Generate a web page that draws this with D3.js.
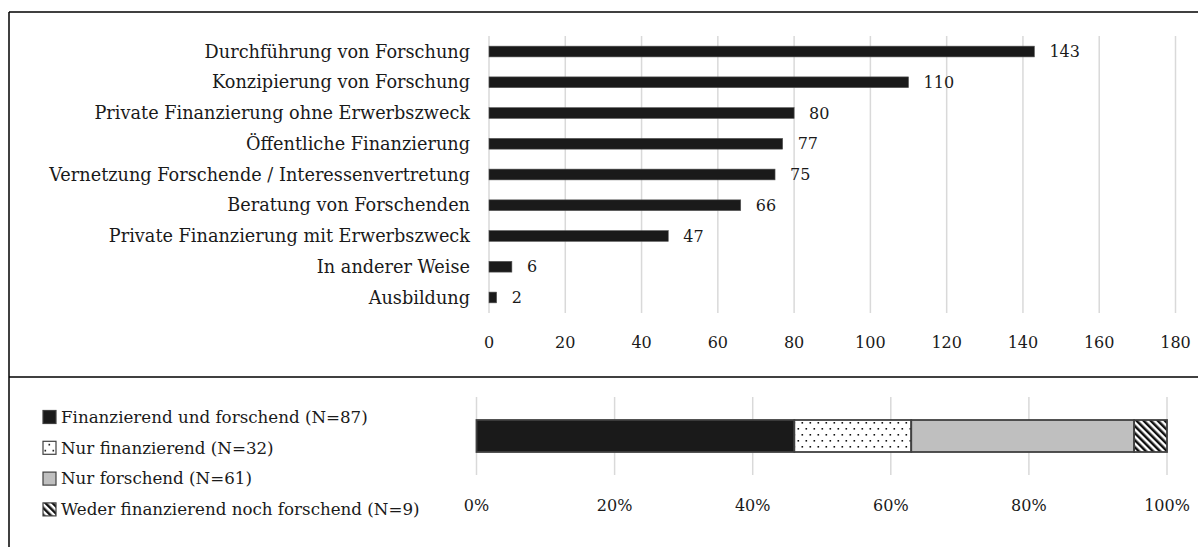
<!DOCTYPE html>
<html>
<head>
<meta charset="utf-8">
<script src="https://cdn.jsdelivr.net/npm/d3@7"></script>
<style>
body { margin: 0; background: #fff; }
svg text { font-family: "DejaVu Serif", serif; fill: #1a1a1a; }
.grid line { stroke: #d9d9d9; stroke-width: 1.5; }
</style>
</head>
<body>
<svg id="chart" width="1198" height="547"></svg>
<script>
// --- data: Tätigkeiten (Anzahl Nennungen)
var categories = [
  "Durchführung von Forschung",
  "Konzipierung von Forschung",
  "Private Finanzierung ohne Erwerbszweck",
  "Öffentliche Finanzierung",
  "Vernetzung Forschende / Interessenvertretung",
  "Beratung von Forschenden",
  "Private Finanzierung mit Erwerbszweck",
  "In anderer Weise",
  "Ausbildung"
];
var counts = [143, 110, 80, 77, 75, 66, 47, 6, 2];
var countTicks = [0, 20, 40, 60, 80, 100, 120, 140, 160, 180];

// --- data: Gruppen (gestapelter 100%-Balken)
var groups = [
  "Finanzierend und forschend (N=87)",
  "Nur finanzierend (N=32)",
  "Nur forschend (N=61)",
  "Weder finanzierend noch forschend (N=9)"
];
var groupN = [87, 32, 61, 9];
var pctTicks = [0, 0.2, 0.4, 0.6, 0.8, 1];

var svg = d3.select("#chart");
var labelSize = 17.7, numSize = 16, legendSize = 16.7;

// ---- patterns
var defs = svg.append("defs");
var dots = defs.append("pattern").attr("id", "dots")
  .attr("patternUnits", "userSpaceOnUse").attr("width", 8).attr("height", 12);
dots.append("rect").attr("width", 8).attr("height", 12).attr("fill", "#fff");
dots.append("rect").attr("x", 1.5).attr("y", 2).attr("width", 1.6).attr("height", 1.6).attr("fill", "#111");
dots.append("rect").attr("x", 5.5).attr("y", 8).attr("width", 1.6).attr("height", 1.6).attr("fill", "#111");

var hatch = defs.append("pattern").attr("id", "hatch")
  .attr("patternUnits", "userSpaceOnUse").attr("width", 5).attr("height", 5)
  .attr("patternTransform", "rotate(-45)");
hatch.append("rect").attr("width", 5).attr("height", 5).attr("fill", "#fff");
hatch.append("rect").attr("width", 2.5).attr("height", 5).attr("fill", "#111");

var fills = ["#1a1a1a", "url(#dots)", "#bfbfbf", "url(#hatch)"];

// ---- frame
svg.append("line").attr("x1", 9).attr("x2", 1198).attr("y1", 12).attr("y2", 12).attr("stroke", "#000").attr("stroke-width", 1.5);
svg.append("line").attr("x1", 9).attr("x2", 9).attr("y1", 12).attr("y2", 547).attr("stroke", "#000").attr("stroke-width", 1.5);
svg.append("line").attr("x1", 9).attr("x2", 1198).attr("y1", 377).attr("y2", 377).attr("stroke", "#000").attr("stroke-width", 1.5);

// ================= top chart
var x = d3.scaleLinear().domain([0, 180]).range([489, 1175.5]);
var y = d3.scaleBand().domain(categories).range([36, 313]).paddingInner(0.65).paddingOuter(0.33);

svg.append("g").attr("class", "grid")
  .selectAll("line").data(countTicks).join("line")
  .attr("x1", d => x(d)).attr("x2", d => x(d))
  .attr("y1", 36).attr("y2", 313);

svg.append("g").selectAll("rect").data(counts).join("rect")
  .attr("x", x(0))
  .attr("y", (d, i) => y(categories[i]))
  .attr("width", d => x(d) - x(0))
  .attr("height", y.bandwidth())
  .attr("fill", "#1a1a1a")
  .attr("stroke", "#555").attr("stroke-width", 0.6);

svg.append("g").selectAll("text").data(counts).join("text")
  .attr("x", d => x(d) + 15)
  .attr("y", (d, i) => y(categories[i]) + y.bandwidth() / 2)
  .attr("dy", "0.35em")
  .style("font-size", numSize + "px")
  .text(d => d);

svg.append("g").selectAll("text").data(categories).join("text")
  .attr("x", 470)
  .attr("y", d => y(d) + y.bandwidth() / 2)
  .attr("dy", "0.35em")
  .attr("text-anchor", "end")
  .style("font-size", labelSize + "px")
  .text(d => d);

svg.append("g").selectAll("text").data(countTicks).join("text")
  .attr("x", d => x(d))
  .attr("y", 342)
  .attr("dy", "0.35em")
  .attr("text-anchor", "middle")
  .style("font-size", numSize + "px")
  .text(d => d);

// ================= bottom chart
var total = d3.sum(groupN);
var stack = [];
var acc = 0;
groupN.forEach(function(n, i) {
  stack.push({ i: i, x0: acc / total, x1: (acc + n) / total });
  acc += n;
});

var px = d3.scaleLinear().domain([0, 1]).range([476.5, 1167]);

svg.append("g").attr("class", "grid")
  .selectAll("line").data(pctTicks).join("line")
  .attr("x1", d => px(d)).attr("x2", d => px(d))
  .attr("y1", 397).attr("y2", 475);

svg.append("g").selectAll("rect").data(stack).join("rect")
  .attr("x", d => px(d.x0))
  .attr("y", 420)
  .attr("width", d => px(d.x1) - px(d.x0))
  .attr("height", 32)
  .attr("fill", d => fills[d.i])
  .attr("stroke", "#404040").attr("stroke-width", 1.8);

svg.append("g").selectAll("text").data(pctTicks).join("text")
  .attr("x", d => px(d))
  .attr("y", 505)
  .attr("dy", "0.35em")
  .attr("text-anchor", "middle")
  .style("font-size", numSize + "px")
  .text(d3.format(".0%"));

// legend
var leg = svg.append("g").selectAll("g").data(groups).join("g")
  .attr("transform", (d, i) => "translate(43," + (417 + i * 30.8) + ")");
leg.append("rect")
  .attr("x", 0).attr("y", -6.5).attr("width", 13).attr("height", 13)
  .attr("fill", (d, i) => fills[i])
  .attr("stroke", "#404040").attr("stroke-width", 1.2);
leg.append("text")
  .attr("x", 18)
  .attr("dy", "0.35em")
  .style("font-size", legendSize + "px")
  .text(d => d);
</script>
</body>
</html>
